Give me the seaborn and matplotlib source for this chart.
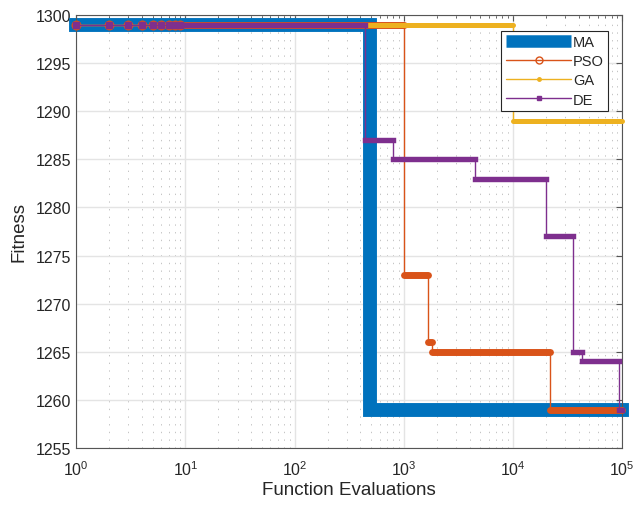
import numpy as np
import pandas as pd
import matplotlib
matplotlib.use('Agg')
import matplotlib.pyplot as plt
import seaborn as sns
from matplotlib.lines import Line2D
from matplotlib.ticker import LogLocator, NullFormatter

# Step data: evaluation where the best fitness changes, and the new value
MAX_EVALS = 1e5
MA_EVALS = [1, 490]
MA_FIT = [1299, 1259]
PSO_EVALS = [1, 1000, 1650, 1800, 22000]
PSO_FIT = [1299, 1273, 1266, 1265, 1259]
GA_EVALS = [1, 10000]
GA_FIT = [1299, 1289]
DE_EVALS = [1, 445, 800, 4500, 20000, 35500, 43000, 93000]
DE_FIT = [1299, 1287, 1285, 1283, 1277, 1265, 1264, 1259]

# first few evaluations, where single markers are still visible
EARLY_EVALS = [1, 2, 3, 4, 5, 6, 7, 8, 9]
BAND_START = 10

colors = {'MA': '#0072BD', 'PSO': '#D95319', 'GA': '#EDB120', 'DE': '#7E2F8E'}

sns.set_style('white')
plt.rcParams['font.family'] = ['Liberation Sans', 'DejaVu Sans']
plt.rcParams['mathtext.fontset'] = 'custom'
plt.rcParams['mathtext.rm'] = 'Liberation Sans'
plt.rcParams['mathtext.it'] = 'Liberation Sans:italic'

fig = plt.figure(figsize=(6.35, 5.06), dpi=100)
ax = fig.add_axes([0.12, 0.1126, 0.86, 0.856])


def step_frame(evals, fits):
    return pd.DataFrame({'x': list(evals) + [MAX_EVALS], 'y': list(fits) + [fits[-1]]})


def draw_bands(evals, fits, color, width, cap, z):
    # dense markers at every evaluation merge into a thick band
    ends = list(evals[1:]) + [MAX_EVALS]
    for start, end, fit in zip(evals, ends, fits):
        if start == 1:
            start = BAND_START
        ax.plot([start, end], [fit, fit], color=color, lw=width,
                solid_capstyle=cap, zorder=z, clip_on=False)


# MA: one thick line
ma = step_frame(MA_EVALS, MA_FIT)
sns.lineplot(data=ma, x='x', y='y', drawstyle='steps-post', color=colors['MA'], lw=10,
             estimator=None, ax=ax, zorder=2)
ax.lines[-1].set_solid_capstyle('projecting')
ax.lines[-1].set_solid_joinstyle('miter')
ax.lines[-1].set_clip_on(False)

series = [
    ('PSO', PSO_EVALS, PSO_FIT, 5.0, 'round', 3),
    ('GA', GA_EVALS, GA_FIT, 3.6, 'round', 4),
    ('DE', DE_EVALS, DE_FIT, 3.9, 'projecting', 5),
]
for name, ev, fit, width, cap, z in series:
    df = step_frame(ev, fit)
    sns.lineplot(data=df, x='x', y='y', drawstyle='steps-post', color=colors[name], lw=1,
                 estimator=None, ax=ax, zorder=z)
    draw_bands(ev, fit, colors[name], width, cap, z)

# single markers at the start (all at the first fitness level)
ax.plot(EARLY_EVALS, [PSO_FIT[0]] * len(EARLY_EVALS), 'o', ms=6, mfc='none',
        mec=colors['PSO'], mew=1.2, zorder=3, clip_on=False)
ax.plot(EARLY_EVALS, [GA_FIT[0]] * len(EARLY_EVALS), '.', ms=5,
        color=colors['GA'], zorder=4, clip_on=False)
ax.plot(EARLY_EVALS, [DE_FIT[0]] * len(EARLY_EVALS), 's', ms=3.8,
        color=colors['DE'], zorder=5, clip_on=False)

ax.set_xscale('log')
ax.set_xlim(1, 1e5)
ax.set_ylim(1255, 1300)
ax.set_yticks(np.arange(1255, 1301, 5))
ax.xaxis.set_minor_locator(LogLocator(base=10, subs=np.arange(2, 10)))
ax.xaxis.set_minor_formatter(NullFormatter())

ax.grid(which='major', color='#e4e4e4', lw=1.0, zorder=0)
ax.grid(which='minor', axis='x', color='#c4c4c4', ls=(0, (1.4, 6.5)), lw=0.7, zorder=0)
ax.set_axisbelow(True)

for s in ax.spines.values():
    s.set_color('#555555')
    s.set_linewidth(0.8)
ax.tick_params(which='both', direction='in', top=True, right=True, colors='#555555',
               labelcolor='#262626', labelsize=11.5)
ax.tick_params(which='major', length=4)
ax.tick_params(axis='x', which='minor', length=2)
ax.tick_params(axis='x', pad=8)

ax.set_xlabel('Function Evaluations', fontsize=13.5, color='#262626', labelpad=2)
ax.set_ylabel('Fitness', fontsize=13.5, color='#262626', labelpad=6)

handles = [
    Line2D([], [], color=colors['MA'], lw=9, solid_capstyle='butt'),
    Line2D([], [], color=colors['PSO'], lw=1, marker='o', ms=5, mfc='none', mew=1),
    Line2D([], [], color=colors['GA'], lw=1, marker='.', ms=5),
    Line2D([], [], color=colors['DE'], lw=1, marker='s', ms=3.5),
]
leg = ax.legend(handles, ['MA', 'PSO', 'GA', 'DE'], loc='upper right',
                bbox_to_anchor=(0.974, 0.963), fontsize=10.5, frameon=True,
                fancybox=False, edgecolor='#262626', framealpha=1, borderpad=0.3,
                handlelength=4.5, handletextpad=0.1, labelspacing=0.35,
                borderaxespad=0)
leg.get_frame().set_linewidth(0.8)
leg.set_zorder(10)

fig.savefig('out.png', dpi=100)
